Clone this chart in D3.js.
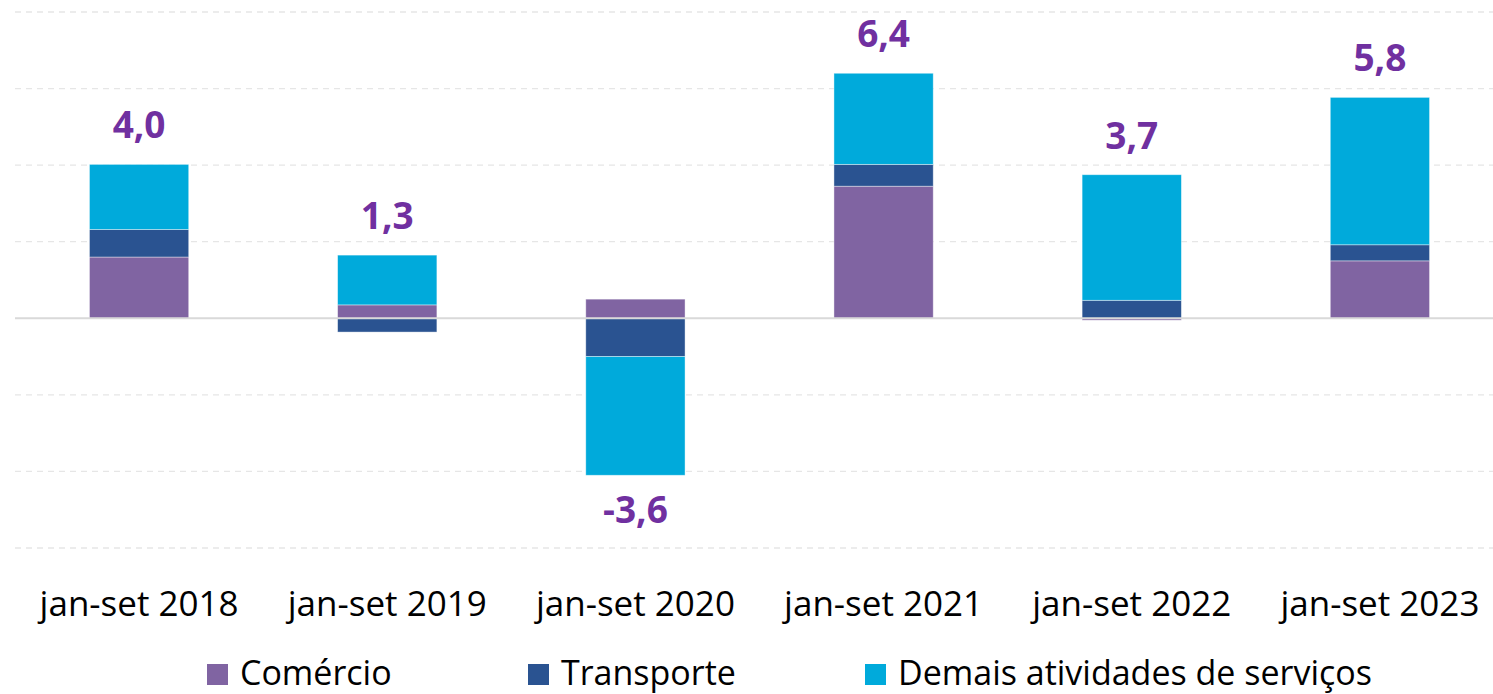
<!DOCTYPE html>
<html>
<head>
<meta charset="utf-8">
<script src="https://cdn.jsdelivr.net/npm/d3@7"></script>
<style>
  html, body { margin: 0; padding: 0; background: #fff; }
  svg { display: block; font-family: "Open Sans", "Noto Sans", sans-serif; }
</style>
</head>
<body>
<svg id="chart" width="1493" height="694"></svg>
<script>
"use strict";

// data
const categories = ["jan-set 2018", "jan-set 2019", "jan-set 2020", "jan-set 2021", "jan-set 2022", "jan-set 2023"];
const seriesNames = ["Comércio", "Transporte", "Demais atividades de serviços"];
const comercio = [1.6, 0.35, 0.5, 3.45, -0.05, 1.5];
const transporte = [0.72, -0.36, -1.0, 0.57, 0.47, 0.42];
const demais = [1.7, 1.3, -3.1, 2.38, 3.28, 3.85];
const totals = [4.0, 1.3, -3.6, 6.4, 3.7, 5.8];
const yTicks = [-6, -4, -2, 0, 2, 4, 6, 8];

const COLORS = ["#8064A2", "#2A5391", "#00AADB"];
const LABEL_COLOR = "#7030A0";

const svg = d3.select("#chart");
const margin = { left: 15, right: -11, top: 12, bottom: 146 };
const width = 1493, height = 694;

const x = d3.scaleBand()
    .domain(categories)
    .range([margin.left, width - margin.right])
    .paddingInner(0.6)
    .paddingOuter(0.3);

const y = d3.scaleLinear()
    .domain([-6, 8])
    .range([height - margin.bottom, margin.top]);

// rows for the stack
const rows = categories.map((c, i) => ({
    cat: c,
    [seriesNames[0]]: comercio[i],
    [seriesNames[1]]: transporte[i],
    [seriesNames[2]]: demais[i]
}));

const stacked = d3.stack()
    .keys(seriesNames)
    .offset(d3.stackOffsetDiverging)(rows);

// gridlines
svg.append("g")
    .selectAll("line")
    .data(yTicks.filter((t) => t !== 0))
    .join("line")
    .attr("x1", margin.left)
    .attr("x2", width)
    .attr("y1", (d) => y(d))
    .attr("y2", (d) => y(d))
    .attr("stroke", "#e6e6e6")
    .attr("stroke-width", 1.3)
    .attr("stroke-dasharray", "6,5");

// bars
svg.append("g")
    .selectAll("g")
    .data(stacked)
    .join("g")
    .attr("fill", (d, i) => COLORS[i])
    .selectAll("rect")
    .data((d) => d)
    .join("rect")
    .attr("x", (d) => x(d.data.cat))
    .attr("width", x.bandwidth())
    .attr("y", (d) => y(Math.max(d[0], d[1])))
    .attr("height", (d) => Math.abs(y(d[0]) - y(d[1])))
    .attr("stroke", "rgba(255,255,255,0.5)")
    .attr("stroke-width", 0.8);

// zero line
svg.append("line")
    .attr("x1", margin.left)
    .attr("x2", width)
    .attr("y1", y(0))
    .attr("y2", y(0))
    .attr("stroke", "#d9d9d9")
    .attr("stroke-width", 2);

// total labels
const fmt = (v) => v.toFixed(1).replace(".", ",");
svg.append("g")
    .selectAll("text")
    .data(categories.map((c, i) => ({ cat: c, i, total: totals[i] })))
    .join("text")
    .attr("x", (d) => x(d.cat) + x.bandwidth() / 2)
    .attr("y", (d) => {
        const top = d3.max(stacked, (s) => s[d.i][1]);
        const bot = d3.min(stacked, (s) => s[d.i][0]);
        return d.total >= 0 ? y(top) - 26 : y(bot) + 48;
    })
    .attr("text-anchor", "middle")
    .attr("font-size", 37)
    .attr("font-weight", 700)
    .attr("fill", LABEL_COLOR)
    .text((d) => fmt(d.total));

// category axis
const xAxis = svg.append("g")
    .attr("transform", `translate(0,${height - margin.bottom})`)
    .call(d3.axisBottom(x).tickSize(0).tickPadding(0));
xAxis.select(".domain").remove();
xAxis.selectAll("text")
    .attr("y", 68)
    .attr("dy", 0)
    .attr("font-size", 35)
    .attr("font-family", "\"Open Sans\", sans-serif")
    .attr("fill", "#000");

// legend
const legendX = [207, 528, 865];
const legend = svg.append("g")
    .selectAll("g")
    .data(seriesNames)
    .join("g")
    .attr("transform", (d, i) => `translate(${legendX[i]},664)`);
legend.append("rect")
    .attr("width", 21)
    .attr("height", 21)
    .attr("fill", (d, i) => COLORS[i]);
legend.append("text")
    .attr("x", 33)
    .attr("y", 21)
    .attr("font-size", 34)
    .attr("fill", "#000")
    .text((d) => d);
</script>
</body>
</html>
